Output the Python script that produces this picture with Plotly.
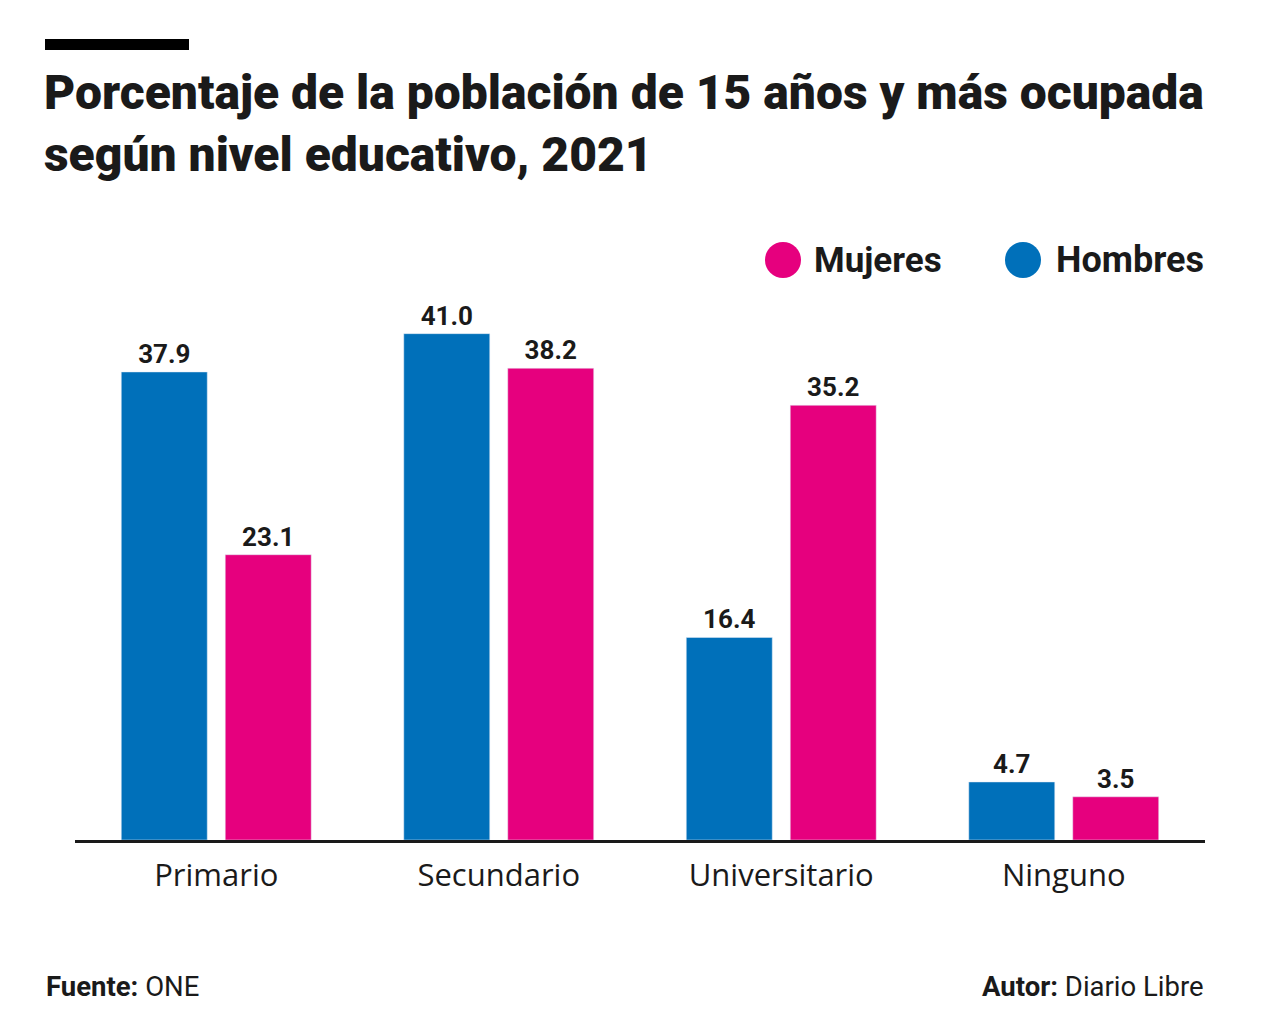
import plotly.graph_objects as go

# datos: ONE, poblacion ocupada de 15 anos y mas por nivel educativo, 2021
niveles = ["Primario", "Secundario", "Universitario", "Ninguno"]
hombres = [37.9, 41.0, 16.4, 4.7]
mujeres = [23.1, 38.2, 35.2, 3.5]

AZUL = "#0070BA"
ROSA = "#E6007E"
TINTA = "#1a1a1a"

# la pagina tiene 8px de margen en el body
OFF = 8
W, H = 1280, 1024
ML = 75 - OFF
MT = 260 - OFF
MR = W - (1205 - OFF)
MB = H - (840 - OFF)
pw = W - ML - MR
ph = H - MT - MB


def px_x(x):
  return (x - OFF - ML) / pw


def px_y(y):
  return (H - MB - (y - OFF)) / ph


fig = go.Figure()
for nombre, valores, color in [("Hombres", hombres, AZUL), ("Mujeres", mujeres, ROSA)]:
  fig.add_trace(go.Bar(
    name=nombre, x=niveles, y=valores, marker_color=color,
    texttemplate="%{y:.1f}", textposition="outside", cliponaxis=False,
    textfont=dict(family="Roboto", size=26, color=TINTA, weight="bold"),
  ))

shapes = [
  # barra negra sobre el titulo
  dict(type="rect", xref="paper", yref="paper",
       x0=px_x(45), x1=px_x(189), y0=px_y(50), y1=px_y(39),
       fillcolor="black", line_width=0),
  # leyenda
  dict(type="circle", xref="paper", yref="paper",
       x0=px_x(765), x1=px_x(801), y0=px_y(278), y1=px_y(242),
       fillcolor=ROSA, line_width=0),
  dict(type="circle", xref="paper", yref="paper",
       x0=px_x(1005), x1=px_x(1041), y0=px_y(278), y1=px_y(242),
       fillcolor=AZUL, line_width=0),
]

annotations = [
  dict(text="Porcentaje de la población de 15 años y más ocupada<br>según nivel educativo, 2021",
       xref="paper", yref="paper", x=px_x(42), y=px_y(62), xanchor="left", yanchor="top",
       align="left", showarrow=False,
       font=dict(family="Roboto", size=48, color=TINTA, weight=900)),
  dict(text="Mujeres", xref="paper", yref="paper", x=px_x(812), y=px_y(260),
       xanchor="left", yanchor="middle", showarrow=False,
       font=dict(family="Roboto", size=35, color=TINTA, weight="bold")),
  dict(text="Hombres", xref="paper", yref="paper", x=px_x(1054), y=px_y(260),
       xanchor="left", yanchor="middle", showarrow=False,
       font=dict(family="Roboto", size=36, color=TINTA, weight="bold")),
  dict(text="<b>Fuente:</b> ONE", xref="paper", yref="paper", x=px_x(44), y=px_y(986),
       xanchor="left", yanchor="middle", showarrow=False,
       font=dict(family="Roboto", size=27.5, color=TINTA)),
  dict(text="<b>Autor:</b> Diario Libre", xref="paper", yref="paper", x=px_x(1206), y=px_y(986),
       xanchor="right", yanchor="middle", showarrow=False,
       font=dict(family="Roboto", size=27.5, color=TINTA)),
]

fig.update_layout(
  width=W, height=H,
  margin=dict(l=ML, r=MR, t=MT, b=MB),
  paper_bgcolor="white", plot_bgcolor="white",
  barmode="group", bargap=0.264, bargroupgap=0.173,
  showlegend=False,
  shapes=shapes, annotations=annotations,
  xaxis=dict(
    range=[-0.5, 3.5], showgrid=False, ticks="",
    showline=True, linecolor=TINTA, linewidth=3,
    ticklabelstandoff=6,
    tickfont=dict(family="Open Sans", size=31, color=TINTA),
  ),
  yaxis=dict(
    range=[0, ph / 12.35], visible=False, showgrid=False, zeroline=False,
  ),
)

fig.write_html("out.html")
